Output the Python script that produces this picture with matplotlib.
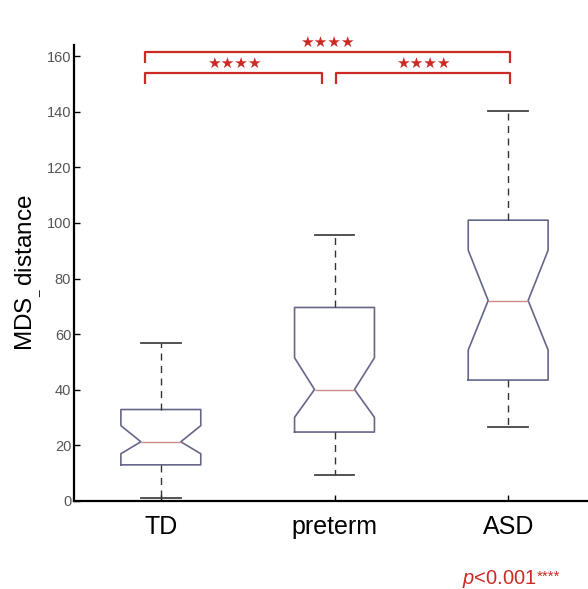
import matplotlib
matplotlib.use('Agg')
import matplotlib.pyplot as plt

# === Data ===
groups = ['TD', 'preterm', 'ASD']
whis_low = [1.0, 9.3, 26.5]
q1 = [13.0, 24.8, 43.5]
medians = [21.3, 40.1, 72.1]
q3 = [32.9, 69.6, 101.0]
whis_high = [56.7, 95.7, 140.1]
notch_low = [17.0, 30.1, 54.3]
notch_high = [27.1, 51.5, 90.2]

comparisons = [(1, 2), (2, 3), (1, 3)]
comp_labels = ['\u2605\u2605\u2605\u2605'] * 3
yticks = [0, 20, 40, 60, 80, 100, 120, 140, 160]

plt.rcParams['font.family'] = ['Liberation Sans', 'DejaVu Sans']
plt.rcParams['mathtext.fontset'] = 'custom'
plt.rcParams['mathtext.rm'] = 'Liberation Sans'
plt.rcParams['mathtext.it'] = 'Liberation Sans:italic'

RED = '#cc2a24'

fig = plt.figure(figsize=(5.88, 5.89), dpi=100)
ax = fig.add_axes([74 / 588, 88 / 589, 521 / 588, 456 / 589])

stats = []
for i, g in enumerate(groups):
    stats.append(dict(label=g, whislo=whis_low[i], q1=q1[i], med=medians[i],
                      q3=q3[i], whishi=whis_high[i],
                      cilo=notch_low[i], cihi=notch_high[i], fliers=[]))

ax.bxp(stats, positions=[1, 2, 3], widths=0.46, shownotches=True,
       showfliers=False,
       boxprops=dict(color='#66668a', linewidth=1.2),
       medianprops=dict(color='#d08a8a', linewidth=1.0),
       whiskerprops=dict(color='#333333', linewidth=1.0, linestyle=(0, (5, 4))),
       capprops=dict(color='#444444', linewidth=1.3))

ax.set_xlim(0.5, 3.5)
ax.set_ylim(0, 164)
ax.set_yticks(yticks)
ax.set_xticks([1, 2, 3])
ax.set_xticklabels(groups, fontsize=18)
ax.tick_params(axis='y', direction='in', length=4, width=1, pad=2,
               labelsize=10.5, labelcolor='#555555')
ax.tick_params(axis='x', direction='in', length=4, width=1, pad=10)

for s in ['top', 'right']:
    ax.spines[s].set_visible(False)
for s in ['left', 'bottom']:
    ax.spines[s].set_linewidth(1.6)

ax.set_ylabel(r'MDS$_{_{\_}}\,$distance', fontsize=17.5, labelpad=1)

# === Significance brackets ===
for (a, b), lab in zip(comparisons, comp_labels):
    x1 = a - 0.09 if a == 1 else a + 0.01
    x2 = b + 0.01 if b == 3 else b - 0.07
    top = b - a == 2
    y = 161.6 if top else 153.9
    ax.plot([x1, x1, x2, x2], [y - 4, y, y, y - 4], color=RED, lw=1.6,
            clip_on=False, solid_capstyle='butt')
    ax.text((x1 + x2) / 2, y + 0.8, lab, color=RED, fontsize=11,
            ha='center', va='bottom', family='DejaVu Sans', clip_on=False)

# === p-value footnote ===
fig.text(462 / 588, 5 / 589, r'$p$<0.001', color=RED, fontsize=14.5,
         ha='left', va='baseline')
fig.text(537 / 588, 8 / 589, '****', color=RED, fontsize=11,
         ha='left', va='baseline')

fig.savefig('out.png', dpi=100)
